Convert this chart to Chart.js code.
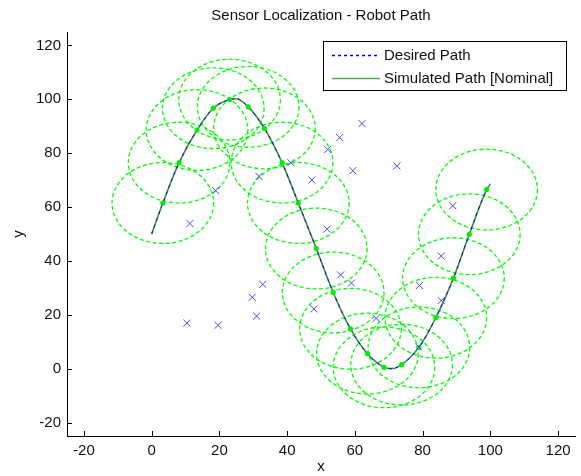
<!DOCTYPE html>
<html>
<head>
<meta charset="utf-8">
<script src="https://cdn.jsdelivr.net/npm/chart.js@4.4.1/dist/chart.umd.min.js"></script>
<style>
  html, body { margin: 0; padding: 0; background: #fff; }
  #wrap { width: 581px; height: 476px; }
</style>
</head>
<body>
<div id="wrap"><canvas id="chart" width="581" height="476"></canvas></div>
<script>
// path
const pathX = [0, 3.3, 8.1, 13.4, 18.2, 23, 25, 28.5, 33.3, 38.5, 43.3, 48.6, 53.6, 58.7, 63.7, 68.6, 70.8, 73.8, 78.9, 83.9, 89.1, 93.8, 98.9, 100];
const pathY = [50, 61.5, 76.5, 88.6, 96.7, 99.9, 100.2, 97.2, 89.2, 76.5, 61.5, 44.6, 28.3, 14.8, 5.6, 0.5, 0, 1.5, 7.9, 18.9, 33.6, 49.9, 66.5, 68.6];

// sensor positions on the path (green dots, circle centres)
const sensorX = [3.3, 8.1, 13.4, 18.2, 23, 28.5, 33.3, 38.5, 43.3, 48.6, 53.6, 58.7, 63.7, 68.6, 73.8, 78.9, 83.9, 89.1, 93.8, 98.9];
const sensorY = [61.5, 76.5, 88.6, 96.7, 99.9, 97.2, 89.2, 76.5, 61.5, 44.6, 28.3, 14.8, 5.6, 0.5, 1.5, 7.9, 18.9, 33.6, 49.9, 66.5];
const sensorRange = 15;

// landmarks (blue x)
const markX = [11.3, 18.9, 31.7, 41.1, 52.0, 55.5, 62.1, 59.4, 72.4, 47.3, 88.9, 51.8, 85.5, 55.8, 59.0, 79.1, 85.5, 47.9, 66.3, 78.9, 10.4, 19.6, 29.7, 32.8, 31.0];
const markY = [53.9, 66.1, 71.4, 76.5, 81.4, 85.8, 91.0, 73.5, 75.3, 70.0, 60.5, 51.8, 41.8, 34.8, 31.8, 30.9, 25.3, 22.2, 18.7, 8.0, 16.9, 16.1, 26.5, 31.3, 19.5];

const xRange = [-25, 125];
const yRange = [-25, 125];
const tickStep = 20;

const legendItems = ["Desired Path", "Simulated Path [Nominal]"];

const FONT = "'Liberation Sans', Arial, sans-serif";

function toPoints(xs, ys) {
    return xs.map((x, i) => ({ x: x, y: ys[i] }));
}

// dashed range circles, drawn through the scales
const rangeCircles = {
    id: "rangeCircles",
    beforeDatasetsDraw(chart) {
        const { ctx, scales: { x, y } } = chart;
        ctx.save();
        ctx.strokeStyle = "#00ff00";
        ctx.lineWidth = 1.3;
        ctx.setLineDash([4, 2.5]);
        sensorX.forEach((cx, i) => {
            const px = x.getPixelForValue(cx);
            const py = y.getPixelForValue(sensorY[i]);
            const rx = x.getPixelForValue(cx + sensorRange) - px;
            const ry = py - y.getPixelForValue(sensorY[i] + sensorRange);
            ctx.beginPath();
            ctx.ellipse(px, py, rx, ry, 0, 0, Math.PI * 2);
            ctx.stroke();
        });
        ctx.restore();
    }
};

// matlab style inward ticks + boxed legend
const axesExtras = {
    id: "axesExtras",
    afterDraw(chart) {
        const { ctx, chartArea, scales: { x, y } } = chart;
        ctx.save();
        ctx.strokeStyle = "#000";
        ctx.lineWidth = 1;
        ctx.setLineDash([]);
        ctx.beginPath();
        x.ticks.forEach(t => {
            const px = Math.round(x.getPixelForValue(t.value)) + 0.5;
            ctx.moveTo(px, chartArea.bottom);
            ctx.lineTo(px, chartArea.bottom - 5);
        });
        y.ticks.forEach(t => {
            const py = Math.round(y.getPixelForValue(t.value)) + 0.5;
            ctx.moveTo(chartArea.left, py);
            ctx.lineTo(chartArea.left + 5, py);
        });
        ctx.stroke();

        // legend box
        const lx = 323.5, ly = 41.5, lw = 243, lh = 49;
        ctx.fillStyle = "#fff";
        ctx.fillRect(lx, ly, lw, lh);
        ctx.strokeStyle = "#000";
        ctx.strokeRect(lx, ly, lw, lh);

        const rows = [55, 78];
        ctx.lineWidth = 1.3;
        ctx.strokeStyle = "#0000ff";
        ctx.setLineDash([3, 3]);
        ctx.beginPath();
        ctx.moveTo(332, rows[0] + 0.5);
        ctx.lineTo(380, rows[0] + 0.5);
        ctx.stroke();
        ctx.strokeStyle = "#4caf50";
        ctx.lineWidth = 1.5;
        ctx.setLineDash([]);
        ctx.beginPath();
        ctx.moveTo(332, rows[1] + 0.5);
        ctx.lineTo(380, rows[1] + 0.5);
        ctx.stroke();

        ctx.fillStyle = "#111";
        ctx.font = "15px " + FONT;
        ctx.textBaseline = "middle";
        ctx.textAlign = "left";
        legendItems.forEach((txt, i) => ctx.fillText(txt, 384, rows[i] + 1));
        ctx.restore();
    }
};

const ctx = document.getElementById("chart").getContext("2d");

new Chart(ctx, {
    type: "scatter",
    data: {
        datasets: [
            {
                label: legendItems[1],
                type: "line",
                data: toPoints(pathX, pathY),
                borderColor: "#3f8f3f",
                borderWidth: 1.6,
                pointRadius: 0,
                cubicInterpolationMode: "monotone",
                fill: false,
                order: 4
            },
            {
                label: legendItems[0],
                type: "line",
                data: toPoints(pathX, pathY),
                borderColor: "#0000ff",
                borderWidth: 1,
                borderDash: [3, 4],
                pointRadius: 0,
                cubicInterpolationMode: "monotone",
                fill: false,
                order: 3
            },
            {
                label: "Sensors",
                data: toPoints(sensorX, sensorY),
                pointRadius: 2.6,
                pointBackgroundColor: "#00ee00",
                pointBorderColor: "#00ee00",
                pointBorderWidth: 0,
                order: 2
            },
            {
                label: "Landmarks",
                data: toPoints(markX, markY),
                pointStyle: "crossRot",
                pointRadius: 5,
                pointBorderColor: "#4848ff",
                pointBorderWidth: 1,
                order: 1
            }
        ]
    },
    options: {
        responsive: false,
        animation: false,
        events: [],
        layout: { padding: { left: 10, right: 3, top: 0, bottom: 0 } },
        plugins: {
            legend: { display: false },
            tooltip: { enabled: false },
            title: {
                display: true,
                text: "Sensor Localization - Robot Path",
                fullSize: false,
                color: "#111",
                font: { family: FONT, size: 15, weight: "normal" },
                padding: { top: 7, bottom: 7 }
            }
        },
        scales: {
            x: {
                type: "linear",
                min: xRange[0],
                max: xRange[1],
                afterFit: s => { s.height = 40; },
                grid: { display: false, drawTicks: false },
                border: { display: true, color: "#000", width: 1 },
                ticks: {
                    stepSize: tickStep,
                    includeBounds: false,
                    padding: 6,
                    color: "#111",
                    font: { family: FONT, size: 15 }
                },
                title: {
                    display: true,
                    text: "x",
                    color: "#111",
                    padding: 0,
                    font: { family: FONT, size: 15 }
                }
            },
            y: {
                type: "linear",
                min: yRange[0],
                max: yRange[1],
                afterFit: s => { s.width = 57; },
                grid: { display: false, drawTicks: false },
                border: { display: true, color: "#000", width: 1 },
                ticks: {
                    stepSize: tickStep,
                    includeBounds: false,
                    padding: 6,
                    color: "#111",
                    font: { family: FONT, size: 15 }
                },
                title: {
                    display: true,
                    text: "y",
                    color: "#111",
                    padding: 0,
                    font: { family: FONT, size: 15 }
                }
            }
        }
    },
    plugins: [rangeCircles, axesExtras]
});
</script>
</body>
</html>
